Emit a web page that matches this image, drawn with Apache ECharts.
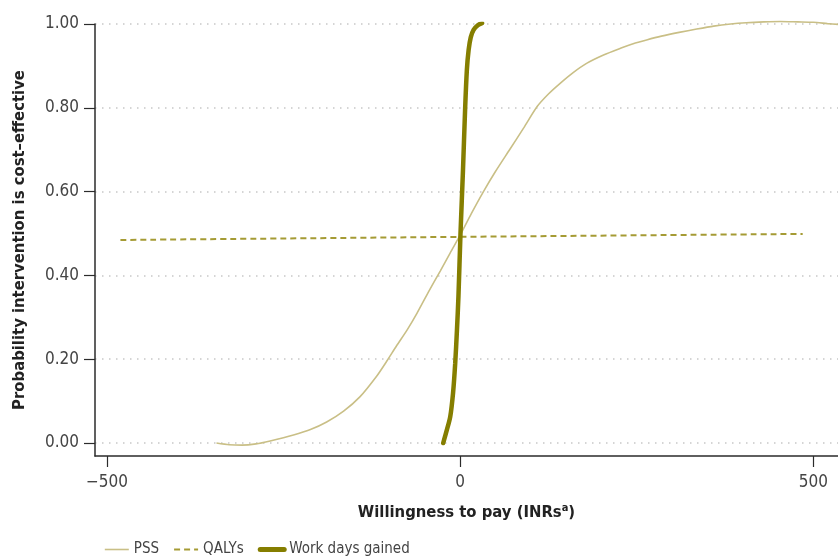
<!DOCTYPE html>
<html><head><meta charset="utf-8">
<script src="https://cdn.jsdelivr.net/npm/echarts@6/dist/echarts.min.js"></script>
<style>html,body{margin:0;padding:0;background:#fff}#c{width:838px;height:556px}</style>
</head><body><div id="c"></div>
<script>
var xTicks = [-500, 0, 500];
var yTicks = [0, 0.2, 0.4, 0.6, 0.8, 1.0];
var seriesNames = ['PSS', 'QALYs', 'Work days gained'];
var pss = [[-345,0.000],[-327,-0.004],[-309,-0.005],[-289,-0.002],[-269,0.005],[-236,0.019],[-212,0.032],[-189,0.050],[-165,0.076],[-142,0.110],[-118,0.160],[-104,0.195],[-90,0.232],[-75,0.270],[-61,0.310],[-45,0.360],[-28,0.411],[-14,0.454],[0,0.496],[16,0.548],[33,0.600],[50,0.648],[70,0.700],[90,0.752],[109,0.803],[125,0.833],[142,0.859],[160,0.884],[179,0.906],[203,0.926],[227,0.942],[245,0.953],[264,0.962],[285,0.971],[310,0.980],[335,0.988],[359,0.995],[383,1.000],[405,1.003],[430,1.005],[453,1.006],[478,1.005],[500,1.004],[520,1.001],[535,0.999]];
var qalys = [[-481,0.4845],[0,0.492],[485,0.499]];
var workDays = [[-24,0.0],[-19,0.03],[-14,0.063],[-10,0.12],[-7,0.19],[-4.5,0.27],[-2.4,0.35],[0.5,0.5],[4,0.65],[7,0.795],[9.5,0.89],[12,0.938],[15,0.968],[19,0.986],[25,0.997],[31,1.002]];

var chart = echarts.init(document.getElementById('c'), null, {renderer:'canvas'});
var font = '"DejaVu Sans",sans-serif';
var st = 'condensed';
chart.setOption({
  animation: false,
  grid: {left: 95, right: 0, top: 24, bottom: 100, containLabel: false},
  xAxis: {
    type: 'value', min: -517, max: 535,
    axisLine: {show: true, onZero: false, lineStyle: {color: '#2b2b2b', width: 1.5}},
    axisTick: {show: true, length: 11, customValues: xTicks, lineStyle: {color: '#2b2b2b', width: 1.2}},
    axisLabel: {customValues: xTicks, fontFamily: font, fontStyle: st, fontSize: 17, color: '#444', margin: 18,
      formatter: function(v){ return v < 0 ? '\u2212' + Math.abs(v) : String(v); }},
    splitLine: {show: false},
    name: 'Willingness to pay (INRs{sup|a})', nameLocation: 'middle', nameGap: 47,
    nameTextStyle: {fontFamily: font, fontStyle: st, fontSize: 16.5, fontWeight: 'bold', color: '#222',
      rich: {sup: {fontFamily: font, fontStyle: st, fontSize: 11, fontWeight: 'bold', color: '#222', verticalAlign: 'top', padding: [0,0,8,0]}}}
  },
  yAxis: {
    type: 'value', min: -0.031, max: 1.0,
    axisLine: {show: true, onZero: false, lineStyle: {color: '#2b2b2b', width: 1.5}},
    axisTick: {show: true, length: 11, customValues: yTicks, lineStyle: {color: '#2b2b2b', width: 1.2}},
    axisLabel: {customValues: yTicks, fontFamily: font, fontStyle: st, fontSize: 17, color: '#444', margin: 16,
      formatter: function(v){ return v.toFixed(2); }},
    splitLine: {show: true, lineStyle: {color: '#c8c8c8', width: 1.5, type: [1.5, 5.5]}},
    name: 'Probability intervention is cost\u2013effective', nameLocation: 'middle', nameGap: 67,
    nameTextStyle: {fontFamily: font, fontStyle: st, fontSize: 16.5, fontWeight: 'bold', color: '#222'}
  },
  legend: {
    left: 99, top: 537, itemWidth: 24, itemHeight: 12, itemGap: 14,
    textStyle: {fontFamily: font, fontStyle: st, fontSize: 15, color: '#444'},
    itemStyle: {opacity: 0},
    data: [
      {name: seriesNames[0], itemStyle: {opacity: 0}, lineStyle: {width: 1.6}},
      {name: seriesNames[1], itemStyle: {opacity: 0}, lineStyle: {width: 2}},
      {name: seriesNames[2], itemStyle: {opacity: 0}, lineStyle: {width: 5}}
    ]
  },
  series: [
    {name: seriesNames[0], type: 'line', data: pss, smooth: 0.25, symbol: 'none', clip: false,
      lineStyle: {color: '#c9bf86', width: 1.6}, itemStyle: {color: '#c9bf86'}},
    {name: seriesNames[1], type: 'line', data: qalys, smooth: true, symbol: 'none',
      lineStyle: {color: '#a59b34', width: 2, type: [6, 4]}, itemStyle: {color: '#a59b34'}},
    {name: seriesNames[2], type: 'line', data: workDays, smooth: 0.3, symbol: 'none',
      lineStyle: {color: '#857e00', width: 4.5, cap: 'round'}, itemStyle: {color: '#857e00'}}
  ]
});
</script></body></html>
